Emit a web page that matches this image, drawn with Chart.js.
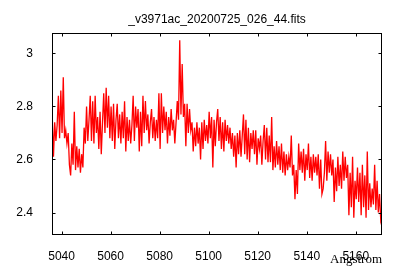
<!DOCTYPE html>
<html>
<head>
<meta charset="utf-8">
<script src="https://cdn.jsdelivr.net/npm/chart.js@4.4.0/dist/chart.umd.min.js"></script>
<style>
  body { margin: 0; background: #fff; }
  canvas { display: block; }
</style>
</head>
<body>
<canvas id="spec" width="400" height="280"></canvas>
<script>
// spectrum, wavelength grid like the FITS header (start + step)
const title = '_v3971ac_20200725_026_44.fits';
const lambdaStart = 5036.2;
const lambdaStep = 0.5;
const flux = [
  2.76, 2.61, 2.74, 2.67, 2.73, 2.84, 2.68, 2.86, 2.70, 2.91,
  2.68, 2.71, 2.66, 2.70, 2.58, 2.54, 2.66, 2.58, 2.78, 2.56,
  2.65, 2.57, 2.64, 2.55, 2.62, 2.57, 2.72, 2.66, 2.80, 2.67,
  2.75, 2.84, 2.67, 2.82, 2.66, 2.84, 2.70, 2.76, 2.64, 2.78,
  2.62, 2.74, 2.85, 2.70, 2.87, 2.72, 2.84, 2.68, 2.80, 2.67,
  2.81, 2.64, 2.75, 2.81, 2.68, 2.77, 2.66, 2.78, 2.68, 2.82,
  2.63, 2.76, 2.67, 2.75, 2.66, 2.73, 2.84, 2.67, 2.80, 2.72,
  2.79, 2.63, 2.78, 2.65, 2.84, 2.70, 2.82, 2.71, 2.77, 2.66,
  2.74, 2.79, 2.68, 2.76, 2.67, 2.75, 2.68, 2.85, 2.64, 2.85,
  2.70, 2.80, 2.71, 2.78, 2.66, 2.76, 2.69, 2.79, 2.71, 2.75,
  2.66, 2.74, 2.82, 2.75, 3.05, 2.77, 2.96, 2.76, 2.81, 2.65,
  2.81, 2.70, 2.79, 2.71, 2.74, 2.63, 2.72, 2.65, 2.74, 2.66,
  2.72, 2.60, 2.74, 2.64, 2.75, 2.67, 2.73, 2.66, 2.78, 2.68,
  2.76, 2.57, 2.75, 2.65, 2.74, 2.79, 2.67, 2.76, 2.64, 2.74,
  2.63, 2.75, 2.67, 2.73, 2.66, 2.72, 2.64, 2.70, 2.61, 2.69,
  2.57, 2.70, 2.62, 2.71, 2.61, 2.69, 2.77, 2.62, 2.75, 2.60,
  2.72, 2.59, 2.70, 2.64, 2.71, 2.62, 2.71, 2.58, 2.68, 2.64,
  2.69, 2.58, 2.67, 2.73, 2.60, 2.72, 2.59, 2.69, 2.59, 2.76,
  2.56, 2.65, 2.57, 2.67, 2.58, 2.65, 2.56, 2.66, 2.55, 2.63,
  2.54, 2.62, 2.56, 2.61, 2.57, 2.69, 2.54, 2.58, 2.45, 2.56,
  2.47, 2.66, 2.56, 2.63, 2.55, 2.64, 2.52, 2.62, 2.56, 2.66,
  2.53, 2.61, 2.52, 2.62, 2.55, 2.61, 2.54, 2.62, 2.49, 2.60,
  2.47, 2.49, 2.55, 2.67, 2.52, 2.63, 2.55, 2.62, 2.54, 2.60,
  2.44, 2.57, 2.48, 2.61, 2.50, 2.58, 2.49, 2.63, 2.52, 2.61,
  2.53, 2.58, 2.39, 2.55, 2.42, 2.61, 2.38, 2.52, 2.45, 2.57,
  2.44, 2.55, 2.39, 2.58, 2.42, 2.54, 2.38, 2.63, 2.41, 2.51,
  2.42, 2.49, 2.43, 2.58, 2.41, 2.52, 2.40, 2.47, 2.37, 2.39
];
const xTicks = [5040, 5060, 5080, 5100, 5120, 5140, 5160];
const yTicks = [2.4, 2.6, 2.8, 3];

const points = flux.map((f, i) => ({ x: lambdaStart + i * lambdaStep, y: f }));

// gnuplot style border with inward ticks on all four sides
const borderPlugin = {
  id: 'border',
  afterDatasetsDraw(chart) {
    const c = chart.ctx;
    const a = chart.chartArea;
    const xs = chart.scales.x, ys = chart.scales.y;
    const L = Math.round(a.left) + 0.5, R = Math.round(a.right) - 0.5;
    const T = Math.round(a.top) + 0.5, B = Math.round(a.bottom) + 0.5;
    const tl = 3;
    c.save();
    c.strokeStyle = '#000';
    c.lineWidth = 1;
    c.strokeRect(L, T, R - L, B - T);
    c.beginPath();
    xTicks.forEach(v => {
      const p = Math.round(xs.getPixelForValue(v)) + 0.5;
      c.moveTo(p, B); c.lineTo(p, B - tl);
      c.moveTo(p, T); c.lineTo(p, T + tl);
    });
    yTicks.forEach(v => {
      const p = Math.round(ys.getPixelForValue(v)) + 0.5;
      c.moveTo(L, p); c.lineTo(L + tl, p);
      c.moveTo(R, p); c.lineTo(R - tl, p);
    });
    c.stroke();
    c.restore();
  }
};

const ctx = document.getElementById('spec').getContext('2d');
const chart = new Chart(ctx, {
  type: 'line',
  data: {
    datasets: [{
      data: points,
      borderColor: '#ff0000',
      borderWidth: 1.3,
      pointRadius: 0,
      tension: 0,
      fill: false
    }]
  },
  options: {
    responsive: false,
    animation: false,
    devicePixelRatio: 1,
    layout: { padding: { left: 0, right: 18, top: 0, bottom: 0 } },
    plugins: {
      legend: { display: false },
      tooltip: { enabled: false },
      title: {
        display: true,
        text: title,
        fullSize: false,
        color: '#000',
        font: { family: 'Liberation Sans', size: 12, weight: 'normal' },
        padding: { top: 12, bottom: 6.6 }
      }
    },
    scales: {
      x: {
        type: 'linear',
        min: 5036.1,
        max: 5170.7,
        grid: { display: false },
        border: { display: false },
        ticks: {
          color: '#000',
          font: { family: 'Liberation Sans', size: 12 },
          padding: 7,
          maxRotation: 0,
          callback: v => String(v)
        },
        title: {
          display: true,
          text: 'Angstrom',
          align: 'end',
          color: '#000',
          font: { family: 'Liberation Serif', size: 13 },
          padding: { top: 0, bottom: 13 }
        },
        afterBuildTicks: s => { s.ticks = xTicks.map(v => ({ value: v })); },
        afterFit: s => { s.height = 46; }
      },
      y: {
        min: 2.319,
        max: 3.077,
        grid: { display: false },
        border: { display: false },
        ticks: {
          color: '#000',
          font: { family: 'Liberation Sans', size: 12 },
          padding: 11,
          callback: v => String(+v.toFixed(1))
        },
        afterBuildTicks: s => { s.ticks = yTicks.map(v => ({ value: v })); },
        afterFit: s => { s.height = s.height; s.width = 52; }
      }
    }
  },
  plugins: [borderPlugin]
});
</script>
</body>
</html>
